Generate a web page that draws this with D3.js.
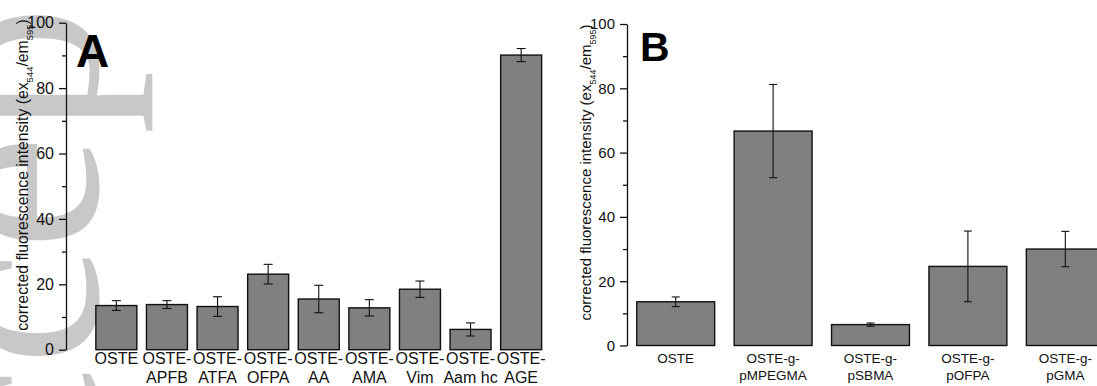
<!DOCTYPE html>
<html>
<head>
<meta charset="utf-8">
<script src="https://cdn.jsdelivr.net/npm/d3@7"></script>
<style>
  body { margin: 0; background: #fff; }
  svg { display: block; font-family: "Liberation Sans", Arial, sans-serif; }
</style>
</head>
<body>
<div id="chart"></div>
<script>
// panel A
const catsA = ["OSTE", "OSTE-APFB", "OSTE-ATFA", "OSTE-OFPA", "OSTE-AA", "OSTE-AMA", "OSTE-Vim", "OSTE-Aam hc", "OSTE-AGE"];
const valuesA = [13.5, 13.8, 13.2, 23.1, 15.5, 12.8, 18.5, 6.2, 90.1];
const errA = [1.5, 1.2, 3.0, 3.0, 4.2, 2.5, 2.5, 2.0, 2.0];

// panel B
const catsB = ["OSTE", "OSTE-g-pMPEGMA", "OSTE-g-pSBMA", "OSTE-g-pOFPA", "OSTE-g-pGMA"];
const valuesB = [13.6, 66.7, 6.5, 24.6, 30.0];
const errB = [1.5, 14.5, 0.5, 11.0, 5.5];

const majorTicks = [0, 20, 40, 60, 80, 100];
const minorTicks = [10, 30, 50, 70, 90];

const width = 1097;
const height = 386;

const svg = d3.select('#chart')
    .append('svg')
    .attr('width', width)
    .attr('height', height);

// page watermark (vertical, reads bottom to top), sits behind the plot
svg.append('text')
    .attr('transform', 'translate(97,669) rotate(-90)')
    .style('font-family', '"Liberation Serif", "Times New Roman", serif')
    .style('font-size', '260px')
    .style('fill', '#c8c8c8')
    .text('Accepted Manuscript');

// split "OSTE-g-pGMA" into "OSTE-g-" / "pGMA"
function splitLabel(s) {
    const i = s.lastIndexOf('-');
    if (i < 0) return [s];
    return [s.slice(0, i + 1), s.slice(i + 1)];
}

function drawPanel(o) {
    const g = svg.append('g');

    const x = d3.scaleBand()
        .domain(o.cats)
        .range([o.x0, o.x1])
        .paddingInner(o.padIn)
        .paddingOuter(o.padOut);

    const y = d3.scaleLinear()
        .domain([0, 100])
        .range([o.yBottom, o.yTop]);

    const data = o.cats.map((c, i) => ({ cat: c, v: o.values[i], e: o.errs[i] }));

    // bars
    g.selectAll('.bar')
        .data(data)
        .enter()
        .append('rect')
        .attr('class', 'bar')
        .attr('x', d => x(d.cat))
        .attr('y', d => y(d.v))
        .attr('width', x.bandwidth())
        .attr('height', d => y(0) - y(d.v))
        .style('fill', '#808080')
        .style('stroke', '#111')
        .style('stroke-width', 1.4);

    // error bars
    const eb = g.selectAll('.err')
        .data(data)
        .enter()
        .append('g')
        .attr('class', 'err')
        .attr('transform', d => `translate(${x(d.cat) + x.bandwidth() / 2},0)`)
        .style('stroke', '#111')
        .style('stroke-width', 1.1);
    eb.append('line')
        .attr('y1', d => y(d.v + d.e))
        .attr('y2', d => y(d.v - d.e));
    eb.append('line')
        .attr('x1', -o.cap).attr('x2', o.cap)
        .attr('y1', d => y(d.v + d.e)).attr('y2', d => y(d.v + d.e));
    eb.append('line')
        .attr('x1', -o.cap).attr('x2', o.cap)
        .attr('y1', d => y(d.v - d.e)).attr('y2', d => y(d.v - d.e));

    // y axis, major + minor
    const ax = g.append('g')
        .attr('transform', `translate(${o.x0},0)`)
        .call(d3.axisLeft(y).tickValues(majorTicks).tickSize(7).tickSizeOuter(0).tickPadding(5));
    ax.select('.domain').style('stroke', '#111').style('stroke-width', 1.3);
    ax.selectAll('.tick line').style('stroke', '#111').style('stroke-width', 1.3);
    ax.selectAll('.tick text')
        .style('font-size', o.tickFont + 'px')
        .style('fill', '#111')
        .style('font-family', '"Liberation Sans", Arial, sans-serif');

    const minor = g.append('g')
        .attr('transform', `translate(${o.x0},0)`)
        .call(d3.axisLeft(y).tickValues(minorTicks).tickSize(4).tickFormat(''));
    minor.select('.domain').remove();
    minor.selectAll('.tick line').style('stroke', '#111').style('stroke-width', 1.3);

    // category labels
    const lab = g.selectAll('.cat')
        .data(data)
        .enter()
        .append('text')
        .attr('class', 'cat')
        .attr('text-anchor', 'middle')
        .attr('x', d => x(d.cat) + x.bandwidth() / 2)
        .attr('y', o.labY)
        .style('font-size', o.labFont + 'px')
        .style('fill', '#111');
    lab.each(function(d) {
        const lines = splitLabel(d.cat);
        const t = d3.select(this);
        lines.forEach((ln, k) => {
            t.append('tspan')
                .attr('x', x(d.cat) + x.bandwidth() / 2)
                .attr('dy', k === 0 ? 0 : o.labGap)
                .text(ln);
        });
    });

    // y title with subscripts
    const title = g.append('text')
        .attr('transform', `translate(${o.titleX},${o.titleY}) rotate(-90)`)
        .attr('text-anchor', 'middle')
        .style('font-size', o.titleFont + 'px')
        .style('fill', '#111');
    const sub = o.titleFont * 0.6;
    title.append('tspan').text('corrected fluorescence intensity (ex');
    title.append('tspan').attr('dy', o.titleFont * 0.3).style('font-size', sub + 'px').text('544');
    title.append('tspan').attr('dy', -o.titleFont * 0.3).text('/em');
    title.append('tspan').attr('dy', o.titleFont * 0.3).style('font-size', sub + 'px').text('595');
    title.append('tspan').attr('dy', -o.titleFont * 0.3).text(')');

    // panel letter
    g.append('text')
        .attr('x', o.letterX)
        .attr('y', o.letterY)
        .style('font-size', o.letterFont + 'px')
        .style('font-weight', 'bold')
        .style('fill', '#000')
        .text(o.letter);
}

drawPanel({
    cats: catsA, values: valuesA, errs: errA,
    x0: 66, x1: 571.5, padIn: 0.19, padOut: 0.59,
    yTop: 22.7, yBottom: 349.7,
    cap: 4.5, tickFont: 16, labFont: 16, labY: 364, labGap: 19,
    titleX: 28, titleY: 175, titleFont: 15.8,
    letter: 'A', letterX: 76, letterY: 67, letterFont: 46
});

drawPanel({
    cats: catsB, values: valuesB, errs: errB,
    x0: 627, x1: 1114, padIn: 0.2, padOut: 0.1,
    yTop: 24, yBottom: 345.5,
    cap: 4, tickFont: 15, labFont: 13.5, labY: 362.5, labGap: 17.5,
    titleX: 591, titleY: 172.5, titleFont: 15,
    letter: 'B', letterX: 640, letterY: 61, letterFont: 41
});
</script>
</body>
</html>
